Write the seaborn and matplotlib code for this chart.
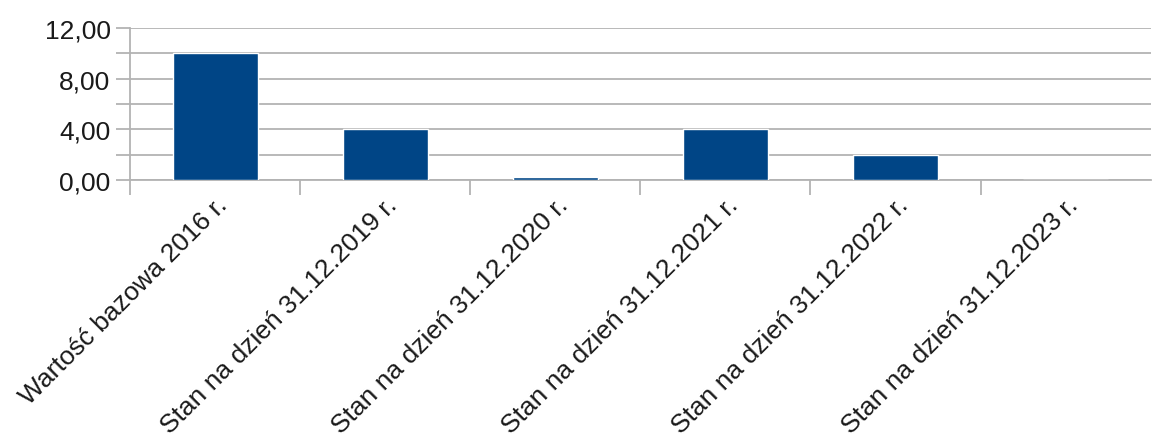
import pandas as pd
import seaborn as sns
import matplotlib.pyplot as plt
from matplotlib.ticker import FixedLocator, FuncFormatter, MultipleLocator

categories = ['Wartość bazowa 2016 r.', 'Stan na dzień 31.12.2019 r.',
              'Stan na dzień 31.12.2020 r.', 'Stan na dzień 31.12.2021 r.',
              'Stan na dzień 31.12.2022 r.', 'Stan na dzień 31.12.2023 r.']
values = [10.0, 4.0, 0.2, 4.0, 2.0, 0.0]

df = pd.DataFrame({'Kategoria': categories, 'Wartość': values})

sns.set_style("white")
plt.rcParams['font.family'] = ['Liberation Sans', 'DejaVu Sans']

fig = plt.figure(figsize=(11.59, 4.39), dpi=100)
ax = fig.add_axes([0.1122, 0.5877, 0.8806, 0.3463])

sns.barplot(data=df, x='Kategoria', y='Wartość', color='#004586',
            width=0.5, saturation=1, ax=ax, zorder=3)

grid_c = '#b3b3b3'
ax.set_ylim(0, 12)
ax.set_xlim(-0.5, len(categories) - 0.5)
ax.yaxis.set_major_locator(MultipleLocator(4))
ax.yaxis.set_minor_locator(MultipleLocator(2))
ax.yaxis.set_major_formatter(FuncFormatter(lambda v, p: f"{v:.2f}".replace('.', ',')))
ax.grid(axis='y', which='both', color=grid_c, linewidth=1.3, zorder=0)
ax.set_axisbelow(True)

# kreski między kategoriami
ax.set_xticks(range(len(categories)))
ax.xaxis.set_minor_locator(FixedLocator([i - 0.5 for i in range(len(categories))]))
ax.tick_params(axis='x', which='major', bottom=True, length=0, pad=9)
ax.tick_params(axis='x', which='minor', bottom=True, length=11, width=1.3, color=grid_c)
ax.tick_params(axis='y', which='both', left=True, length=10, width=1.3, color=grid_c,
               labelsize=19, labelcolor='#1a1a1a', pad=4)
ax.set_xticklabels(categories, rotation=45, ha='right', rotation_mode='anchor',
                   fontsize=19, color='#1a1a1a')

for s in ['top', 'right']:
    ax.spines[s].set_visible(False)
for s in ['left', 'bottom']:
    ax.spines[s].set_color(grid_c)
    ax.spines[s].set_linewidth(1.3)
    ax.spines[s].set_zorder(1)

ax.set_xlabel('')
ax.set_ylabel('')

fig.savefig('out.png', dpi=100)
